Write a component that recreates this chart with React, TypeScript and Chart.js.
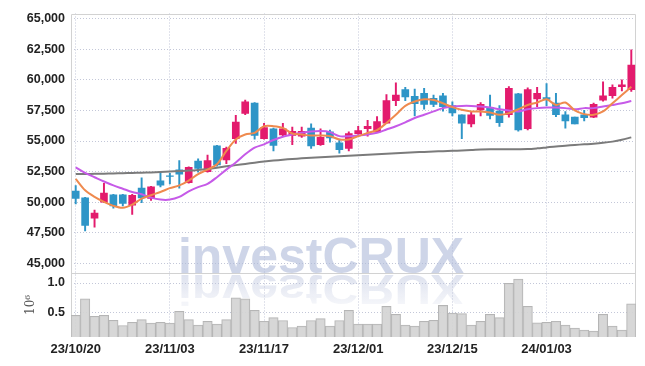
import React, { useEffect, useRef } from 'react';
import { Chart, registerables } from 'chart.js';

Chart.register(...registerables);

const dates = [
  '23/10/20', '23/10/23', '23/10/24', '23/10/25', '23/10/26', '23/10/27', '23/10/30', '23/10/31', '23/11/01', '23/11/02',
  '23/11/03', '23/11/06', '23/11/07', '23/11/08', '23/11/09', '23/11/10', '23/11/13', '23/11/14', '23/11/15', '23/11/16',
  '23/11/17', '23/11/20', '23/11/21', '23/11/22', '23/11/23', '23/11/24', '23/11/27', '23/11/28', '23/11/29', '23/11/30',
  '23/12/01', '23/12/04', '23/12/05', '23/12/06', '23/12/07', '23/12/08', '23/12/11', '23/12/12', '23/12/13', '23/12/14',
  '23/12/15', '23/12/18', '23/12/19', '23/12/20', '23/12/21', '23/12/22', '23/12/26', '23/12/27', '23/12/28', '24/01/02',
  '24/01/03', '24/01/04', '24/01/05', '24/01/08', '24/01/09', '24/01/10', '24/01/11', '24/01/12', '24/01/15', '24/01/16',
];

const priceTicks = [45000, 47500, 50000, 52500, 55000, 57500, 60000, 62500, 65000];
const volumeTicks = [0.5, 1.0];

const opens = [
  50900, 50350, 48700, 50000, 50600, 50600, 49750, 51150, 50300, 51750,
  52150, 52650, 51600, 53350, 52500, 54600, 53450, 55200, 57250, 58100,
  55200, 56000, 55500, 55450, 55400, 56050, 54700, 55750, 54850, 54400,
  55600, 56000, 55750, 56450, 58300, 59200, 58650, 58900, 58500, 58700,
  57900, 57150, 56400, 57550, 57750, 57450, 57150, 58850, 56000, 58450,
  58550, 58100, 57150, 56950, 57150, 56950, 58350, 58700, 59450, 59200,
];
const highs = [
  51350, 50400, 49350, 51550, 50650, 50650, 50650, 52000, 51300, 52450,
  52350, 53400, 52900, 53550, 53850, 54650, 54500, 57100, 58350, 58150,
  56450, 56050, 56450, 56150, 56150, 56400, 56000, 55900, 55150, 55750,
  56200, 56700, 57000, 58800, 59750, 59400, 59250, 59300, 58750, 58900,
  58200, 57150, 57400, 58150, 58750, 57900, 59450, 58900, 59350, 59400,
  59700, 58900, 57400, 56950, 57500, 58100, 59850, 59600, 60000, 62450,
];
const lows = [
  49850, 47650, 47950, 49950, 49500, 49700, 49000, 49950, 50150, 51250,
  51500, 51150, 51550, 52450, 52450, 52950, 53150, 54800, 57150, 55150,
  55150, 54200, 55400, 54700, 55300, 54400, 54650, 54900, 54000, 54200,
  55550, 55400, 55700, 56450, 57900, 58300, 57050, 57600, 57800, 57450,
  57050, 55200, 56150, 57050, 56800, 56200, 56950, 55800, 55900, 57800,
  57900, 57000, 56050, 56400, 56650, 56900, 58250, 58500, 59100, 59050,
];
const closes = [
  50300, 48100, 49100, 50750, 49700, 49900, 50550, 50350, 51250, 51400,
  52100, 52300, 52850, 52750, 53400, 53050, 54400, 56550, 58200, 55450,
  56100, 54650, 56000, 55800, 55800, 54600, 55300, 55250, 54300, 55600,
  55850, 56200, 56600, 58300, 58750, 58600, 58050, 58000, 58000, 57800,
  57300, 56450, 57150, 58000, 57100, 56500, 59300, 55900, 59200, 58900,
  58400, 57150, 56650, 56400, 56900, 58000, 58700, 59400, 59600, 61200,
];

const ma5 = [
  51900, 50970, 50430, 50020, 49700, 49540, 49800, 50290, 50570, 50830,
  51150, 51370, 51770, 52300, 52660, 53100, 54190, 55130, 55530, 55670,
  56210, 56210, 56070, 55610, 55530, 55450, 55450, 55400, 55130, 55130,
  55400, 55670, 55890, 56480, 57150, 57870, 58230, 58410, 58360, 58090,
  57770, 57550, 57420, 57420, 57340, 57150, 57280, 57600, 57950, 58150,
  58410, 57950, 58150, 57500, 57200, 57150, 57420, 58090, 58760, 59440,
];
const ma20 = [
  52850, 52390, 52040, 51690, 51370, 51100, 50830, 50650, 50370, 50210,
  50210, 50430, 50890, 51230, 51500, 52040, 52660, 53250, 53920, 54460,
  54730, 55080, 55350, 55530, 55670, 55770, 55810, 55730, 55400, 55400,
  55450, 55530, 55670, 55940, 56210, 56530, 56880, 57150, 57420, 57690,
  57820, 57870, 57870, 57820, 57740, 57600, 57500, 57420, 57600, 57690,
  57740, 57740, 57690, 57600, 57690, 57690, 57820, 57950, 58090, 58270,
];
const maLong = [
  52300, 52300, 52320, 52330, 52350, 52370, 52390, 52410, 52430, 52460,
  52500, 52540, 52580, 52640, 52720, 52820, 52930, 53030, 53130, 53230,
  53320, 53400, 53470, 53530, 53590, 53640, 53680, 53720, 53760, 53800,
  53840, 53880, 53920, 53960, 54000, 54040, 54080, 54110, 54140, 54170,
  54200, 54230, 54260, 54300, 54320, 54330, 54330, 54330, 54340, 54400,
  54480, 54560, 54620, 54680, 54730, 54780, 54850, 54950, 55100, 55300,
];

const volumes = [
  0.444, 0.727, 0.427, 0.444, 0.359, 0.268, 0.325, 0.370, 0.308, 0.325,
  0.308, 0.512, 0.370, 0.274, 0.342, 0.291, 0.370, 0.745, 0.727, 0.529,
  0.342, 0.405, 0.354, 0.234, 0.257, 0.354, 0.388, 0.257, 0.354, 0.529,
  0.291, 0.291, 0.291, 0.597, 0.461, 0.274, 0.257, 0.342, 0.359, 0.614,
  0.483, 0.472, 0.274, 0.342, 0.461, 0.405, 0.993, 1.068, 0.597, 0.313,
  0.325, 0.342, 0.274, 0.223, 0.189, 0.172, 0.461, 0.257, 0.189, 0.643,
];

const UP = '#e31b6d';
const DOWN = '#2e95c7';
const TICK_FONT = "'Liberation Sans', Arial, sans-serif";

const watermarkPlugin = {
  id: 'watermark',
  beforeDatasetsDraw(chart: any) {
    const { ctx } = chart;
    const base = chart.scales.y.bottom;
    const cx = 321;
    ctx.save();
    ctx.font = "bold 50px 'Liberation Sans', Arial, sans-serif";
    ctx.textAlign = 'center';
    ctx.textBaseline = 'alphabetic';
    ctx.fillStyle = 'rgba(176,188,218,0.62)';
    ctx.fillText('investCRUX', cx, base);
    ctx.translate(0, base + 2);
    ctx.scale(1, -0.85);
    const g = ctx.createLinearGradient(0, 0, 0, -44);
    g.addColorStop(0, 'rgba(190,198,222,0.5)');
    g.addColorStop(1, 'rgba(190,198,222,0.08)');
    ctx.fillStyle = g;
    ctx.fillText('investCRUX', cx, 0);
    ctx.restore();
  },
};

const framePlugin = {
  id: 'frame',
  beforeDatasetsDraw(chart: any) {
    const { ctx, chartArea } = chart;
    const sep = Math.round(chart.scales.y.bottom) + 0.5;
    ctx.save();
    ctx.strokeStyle = '#d2d2d2';
    ctx.lineWidth = 1;
    ctx.beginPath();
    const l = Math.round(chartArea.left) + 0.5;
    const r = Math.round(chartArea.right) - 0.5;
    const t = Math.round(chartArea.top) + 0.5;
    const b = Math.round(chartArea.bottom) - 0.5;
    ctx.moveTo(l, b);
    ctx.lineTo(l, t);
    ctx.lineTo(r, t);
    ctx.lineTo(r, b);
    ctx.moveTo(l, sep);
    ctx.lineTo(r, sep);
    ctx.stroke();
    ctx.restore();
  },
};

export default function App() {
  const ref = useRef<HTMLCanvasElement | null>(null);

  useEffect(() => {
    if (!ref.current) return;
    const colors = opens.map((o, i) => (closes[i] >= o ? UP : DOWN));
    const gridColor = '#c3c7d8';

    const chart = new Chart(ref.current, {
      type: 'bar',
      data: {
        labels: dates,
        datasets: [
          {
            type: 'line',
            label: 'MA5',
            data: ma5,
            yAxisID: 'y',
            borderColor: '#ef8a4e',
            borderWidth: 2,
            pointRadius: 0,
            tension: 0.3,
            order: 1,
          } as any,
          {
            type: 'line',
            label: 'MA20',
            data: ma20,
            yAxisID: 'y',
            borderColor: '#c65ae8',
            borderWidth: 2,
            pointRadius: 0,
            tension: 0.3,
            order: 2,
          },
          {
            type: 'line',
            label: 'MA long',
            data: maLong,
            yAxisID: 'y',
            borderColor: '#7b7b7b',
            borderWidth: 2,
            pointRadius: 0,
            tension: 0.3,
            order: 3,
          },
          {
            type: 'bar',
            label: 'body',
            data: opens.map((o, i) => [o, closes[i]]),
            yAxisID: 'y',
            backgroundColor: colors,
            borderWidth: 0,
            barThickness: 7,
            grouped: false,
            order: 4,
          },
          {
            type: 'bar',
            label: 'wick',
            data: lows.map((lo, i) => [lo, highs[i]]),
            yAxisID: 'y',
            backgroundColor: colors,
            borderWidth: 0,
            barThickness: 1.3,
            grouped: false,
            order: 5,
          },
          {
            type: 'bar',
            label: 'volume',
            data: volumes,
            yAxisID: 'y2',
            backgroundColor: 'rgba(212,212,212,0.92)',
            borderColor: '#b5b5b5',
            borderWidth: 1,
            borderSkipped: 'bottom',
            barPercentage: 1,
            categoryPercentage: 1,
            grouped: false,
            order: 10,
          },
        ] as any,
      },
      options: {
        animation: false,
        responsive: true,
        maintainAspectRatio: false,
        events: [],
        layout: { padding: { top: 9, right: 9, left: 0, bottom: 0 } },
        plugins: {
          legend: { display: false },
          tooltip: { enabled: false },
        },
        scales: {
          x: {
            type: 'category',
            offset: true,
            grid: { display: true, offset: false, color: gridColor, drawTicks: false },
            border: { display: false, dash: [1, 2] },
            afterBuildTicks: (scale: any) => {
              scale.ticks = scale.ticks.filter((t: any) => t.value % 10 === 0);
            },
            afterFit: (scale: any) => {
              scale.height = 29;
            },
            ticks: {
              autoSkip: false,
              maxRotation: 0,
              padding: 5,
              color: '#222',
              font: { family: TICK_FONT, size: 13, weight: 'bold' },
            },
          },
          y2: {
            type: 'linear',
            position: 'left',
            stack: 'panels',
            stackWeight: 65,
            min: 0.07,
            max: 1.175,
            grid: { color: gridColor, drawTicks: false },
            border: { display: false, dash: [1, 2] },
            afterBuildTicks: (scale: any) => {
              scale.ticks = volumeTicks.map((v) => ({ value: v }));
            },
            afterFit: (scale: any) => {
              scale.width = 71;
            },
            title: {
              display: true,
              text: '10⁶',
              color: '#555',
              font: { family: "'DejaVu Serif', 'Liberation Serif', serif", size: 12 },
              padding: { top: 24, bottom: 0 },
            },
            ticks: {
              autoSkip: false,
              padding: 6,
              color: '#222',
              font: { family: TICK_FONT, size: 12.5, weight: 'bold' },
              callback: (v: any) => Number(v).toFixed(1),
            },
          },
          y: {
            type: 'linear',
            position: 'left',
            stack: 'panels',
            stackWeight: 263,
            min: 44218,
            max: 65427,
            grid: { color: gridColor, drawTicks: false },
            border: { display: false, dash: [1, 2] },
            afterBuildTicks: (scale: any) => {
              scale.ticks = priceTicks.map((v) => ({ value: v }));
            },
            afterFit: (scale: any) => {
              scale.width = 71;
            },
            ticks: {
              autoSkip: false,
              padding: 6,
              color: '#222',
              font: { family: TICK_FONT, size: 12.5, weight: 'bold' },
              callback: (v: any) => Number(v).toLocaleString('en-US'),
            },
          },
        },
      } as any,
      plugins: [framePlugin, watermarkPlugin],
    });

    return () => chart.destroy();
  }, []);

  return (
    <div style={{ position: 'absolute', left: 0, top: 0, width: 645, height: 366 }}>
      <canvas ref={ref} />
    </div>
  );
}
